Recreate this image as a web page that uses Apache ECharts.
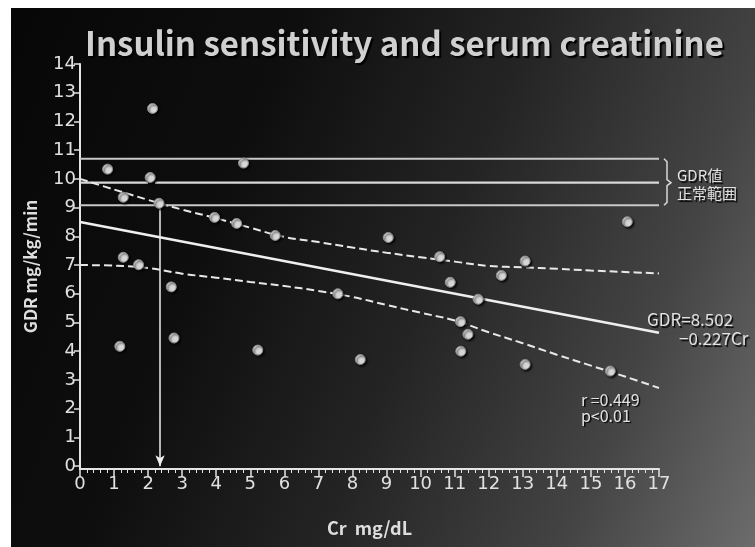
<!DOCTYPE html>
<html><head><meta charset="utf-8">
<script src="https://cdn.jsdelivr.net/npm/echarts@6/dist/echarts.min.js"></script>
<style>
html,body{margin:0;padding:0;background:#fff;}
#c{width:755px;height:547px;
background: linear-gradient(112deg,#070707 0%,#0e0e0e 30%,#242424 55%,#444444 80%,#6c6c6c 100%) no-repeat 11px 8px / 744px 539px, #ffffff;}
</style>
</head><body><div id="c"></div>
<script>
// ---- data ----
const chartTitle = 'Insulin sensitivity and serum creatinine';
const xTickValues = [0,1,2,3,4,5,6,7,8,9,10,11,12,13,14,15,16,17];
const yTickValues = [0,1,2,3,4,5,6,7,8,9,10,11,12,13,14];
const crValues  = [2.13,0.81,4.80,2.06,1.27,2.32,3.95,4.60,5.73,1.27,1.72,2.68,2.76,1.17,5.22,
                   9.05,10.56,10.87,11.69,7.57,11.17,11.39,11.18,8.23,16.07,13.07,12.37,13.07,15.57];
const gdrValues = [12.45,10.34,10.55,10.05,9.36,9.15,8.66,8.45,8.03,7.27,7.01,6.24,4.46,4.17,4.04,
                   7.96,7.29,6.40,5.81,6.00,5.03,4.59,4.00,3.71,8.51,7.14,6.64,3.54,3.31];
const regressionCr  = [0, 17];
const regressionGdr = [8.50, 4.64];
const bandCr    = [0,1,2,3,4,5,6,7,8,9,10,11,12,13,14,15,16,17];
const upperBand = [10.0,9.63,9.27,8.93,8.63,8.30,7.98,7.80,7.61,7.43,7.27,7.12,6.97,6.92,6.87,6.81,6.76,6.71];
const lowerBand = [7.0,6.98,6.90,6.70,6.56,6.41,6.27,6.10,5.89,5.61,5.34,5.07,4.66,4.28,3.88,3.50,3.12,2.72];
const normalRange = [10.70, 9.87, 9.08];   // upper, middle, lower GDR normal range lines
const middleGap = [2.00, 2.20];             // middle line interrupted by a point
const arrowCr = 2.35, arrowTop = 9.05, arrowBottom = 0;
const regressionText = ['GDR=8.502', '\u22120.227Cr'];
const statText = ['r =0.449', 'p<0.01'];
const rangeText = ['GDR値', '正常範囲'];

// ---- chart ----
const LINE = '#e4e4e4';
const FONT = '"Noto Sans CJK JP","Noto Sans",sans-serif';
const TICKFONT = '"DejaVu Sans",sans-serif';
const chart = echarts.init(document.getElementById('c'), null, {renderer:'canvas'});

const pts = crValues.map((x,i)=>[x,gdrValues[i]]);
const seg = (a,b)=>a.map((x,i)=>[x,b[i]]);

const option = {
  backgroundColor: 'transparent',
  animation: false,
  title: {
    text: chartTitle, left: 80, top: 22,
    textStyle: {color:'#d0d0d0', fontSize:33, fontWeight:'bold', fontFamily:FONT,
      textShadowColor:'#000', textShadowOffsetX:2, textShadowOffsetY:2, textShadowBlur:1}
  },
  grid: {left:80, right:96, top:64, bottom:78, containLabel:false},
  xAxis: {
    type:'value', min:0, max:17, interval:1,
    name:'Cr  mg/dL', nameLocation:'middle', nameGap:50,
    nameTextStyle:{color:'#dedede', fontSize:18, fontWeight:'bold', fontFamily:FONT},
    axisLine:{show:true, onZero:false, lineStyle:{color:LINE, width:2}},
    axisTick:{show:true, length:8, lineStyle:{color:LINE, width:1.5}},
    minorTick:{show:true, splitNumber:5, length:4, lineStyle:{color:LINE, width:1}},
    axisLabel:{color:'#e0e0e0', fontSize:18, margin:6, fontFamily:TICKFONT},
    splitLine:{show:false}, minorSplitLine:{show:false}
  },
  yAxis: {
    type:'value', min:-0.1, max:14,
    name:'GDR mg/kg/min', nameLocation:'middle', nameGap:41, nameRotate:90,
    nameTextStyle:{color:'#dedede', fontSize:17, fontWeight:'bold', fontFamily:FONT},
    axisLine:{show:true, onZero:false, lineStyle:{color:LINE, width:2}},
    axisTick:{show:true, length:6, customValues:yTickValues, lineStyle:{color:LINE, width:1.5}},
    axisLabel:{color:'#e0e0e0', fontSize:18, margin:4, customValues:yTickValues, fontFamily:TICKFONT},
    splitLine:{show:false}
  },
  series: [
    {type:'line', data:[[0,normalRange[0]],[17,normalRange[0]]], symbol:'none', lineStyle:{color:'#c8c8c8', width:2}, z:1},
    {type:'line', data:[[0,normalRange[1]],[middleGap[0],normalRange[1]]], symbol:'none', lineStyle:{color:'#d8d8d8', width:2.2}, z:1},
    {type:'line', data:[[middleGap[1],normalRange[1]],[17,normalRange[1]]], symbol:'none', lineStyle:{color:'#d8d8d8', width:2.2}, z:1},
    {type:'line', data:[[0,normalRange[2]],[17,normalRange[2]]], symbol:'none', lineStyle:{color:'#c8c8c8', width:2}, z:1},
    {type:'line', data:seg(regressionCr,regressionGdr), symbol:'none', lineStyle:{color:'#efefef', width:2.5}, z:2},
    {type:'line', data:seg(bandCr,upperBand), symbol:'none', smooth:0.4, lineStyle:{color:'#e8e8e8', width:2, type:[8,4]}, z:2},
    {type:'line', data:seg(bandCr,lowerBand), symbol:'none', smooth:0.4, lineStyle:{color:'#e8e8e8', width:2, type:[8,4]}, z:2},
    {type:'line', data:[], symbol:'none',
      markLine:{silent:true, symbol:['none','arrow'], symbolSize:[7,11], label:{show:false},
        lineStyle:{color:'#eeeeee', width:1.5, type:'solid'},
        data:[[{coord:[arrowCr,arrowTop]},{coord:[arrowCr,arrowBottom]}]]}, z:2},
    {type:'scatter', data:pts, symbol:'circle', symbolSize:10,
      itemStyle:{color:'#d6d6d6', borderColor:'#8a8a8a', borderWidth:1, opacity:1,
        shadowColor:'rgba(0,0,0,0.85)', shadowBlur:2, shadowOffsetX:1.5, shadowOffsetY:1.5}, z:5}
  ]
};
chart.setOption(option);

// annotations placed from the axes' own scales
const P = (x,y)=>chart.convertToPixel({gridIndex:0},[x,y]);
const tTop = P(17,normalRange[0]), tMid = P(17,normalRange[1]), tBot = P(17,normalRange[2]);
const bx = tTop[0]+5;
const txt = (s,x,y,size,align)=>({type:'text', x:x, y:y, style:{text:s, fill:'#e2e2e2', fontSize:size, fontFamily:FONT,
  textAlign:align||'left', textVerticalAlign:'middle', textShadowColor:'rgba(0,0,0,0.9)', textShadowOffsetX:1.5, textShadowOffsetY:1.5, textShadowBlur:1}});
const regEnd = P(regressionCr[1], regressionGdr[1]);
const lowEnd = P(15.5, 2.7);
chart.setOption({graphic:[
  {type:'polyline', shape:{points:[[bx,tTop[1]],[bx+3,tTop[1]+3],[bx+3,tMid[1]-3],[bx+7,tMid[1]],[bx+3,tMid[1]+3],[bx+3,tBot[1]-3],[bx,tBot[1]]]},
    style:{stroke:'#d8d8d8', lineWidth:1.5, fill:null}},
  txt(rangeText[0], bx+13, tMid[1]-7, 15),
  txt(rangeText[1], bx+13, tMid[1]+11, 15),
  txt(regressionText[0], regEnd[0]-12, regEnd[1]-13, 17),
  txt(regressionText[1], regEnd[0]+20, regEnd[1]+6, 17),
  txt(statText[0], lowEnd[0]-27, lowEnd[1]+11, 16),
  txt(statText[1], lowEnd[0]-27, lowEnd[1]+27, 16)
]});
</script></body></html>
